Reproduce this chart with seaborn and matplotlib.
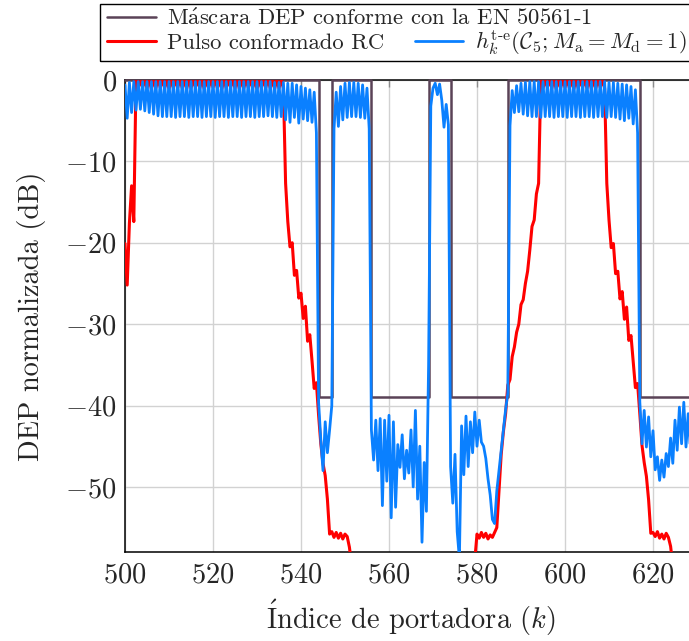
import numpy as np
import pandas as pd
import matplotlib
matplotlib.use("Agg")
import matplotlib.pyplot as plt
from matplotlib.lines import Line2D
from matplotlib.patches import Rectangle
import seaborn as sns

# ---------------- data ----------------
k_start, k_stop, k_step = 500.0, 630.0, 0.5   # carrier index grid (half-carrier)

# Mask DEP (EN 50561-1), breakpoints
mask_k = [500, 544, 544, 547, 547, 556, 556, 569, 569, 574, 574, 587, 587, 617, 617, 630]
mask_db = [0, 0, -39, -39, 0, 0, -39, -39, 0, 0, -39, -39, 0, 0, -39, -39]

# Pulso conformado RC (red)
red_rise1 = [-20.1, -25.2, -17.6, -13.0, -17.4, 0.0]                       # 500.0-502.5
red_pass1 = [-1.0, 0.0, -0.9, 0.0, -1.0, 0.0, -1.1, 0.0, -1.0, 0.0,
             -0.9, 0.0, -1.0, 0.0, -1.1, 0.0, -1.0, 0.0, -0.9, 0.0,
             -1.0, 0.0, -1.1, 0.0, -1.0, 0.0, -0.9, 0.0, -1.0, 0.0,
             -1.1, 0.0, -1.0, 0.0, -0.9, 0.0, -1.0, 0.0, -1.1, 0.0,
             -1.0, 0.0, -0.9, 0.0, -1.0, 0.0, -1.1, 0.0, -1.0, 0.0,
             -0.9, 0.0, -1.0, 0.0, -1.1, 0.0, -1.0, 0.0, -0.9, 0.0,
             -1.0, 0.0, -1.1, 0.0, -1.0, 0.0, -1.0]                           # 503.0-536.0
red_fall1 = [-12.7, -17.4, -20.5, -20.0, -24.0, -23.4, -26.8, -26.2, -29.3, -27.8,
             -32.1, -31.3, -34.5, -37.9, -37.2, -41.2, -44.7, -47.1, -48.6, -51.5,
             -55.8, -55.5, -56.2, -55.6, -56.3, -55.7, -56.4, -55.8, -56.1, -57.4,
             -59.5]                                                             # 536.5-551.5
red_hidden1 = [-62.0, -63.5, -64.0, -65.0, -66.0, -66.5, -67.0, -67.5, -68.0, -68.0, -68.5,
               -69.0, -69.0, -69.5, -70.0, -70.0, -70.0, -70.5, -70.5, -70.5, -71.0, -71.0,
               -71.0, -71.0, -71.0, -71.0, -71.0, -71.0, -70.5, -70.5, -70.5, -70.0, -70.0,
               -70.0, -69.5, -69.0, -69.0, -68.5, -68.0, -68.0, -67.5, -67.0, -66.5, -66.0,
               -65.5, -65.0, -64.5, -64.0, -63.5, -63.0, -62.5, -62.0, -61.5, -61.0, -60.5]  # 552.0-579.0
red_rise2 = [-59.0, -55.8, -56.3, -55.6, -56.2, -55.7, -56.4, -55.9, -56.2, -55.6,
             -55.0, -50.5, -46.0, -43.2, -41.0, -37.5, -36.8, -34.0, -32.8, -31.0,
             -30.0, -27.6, -27.0, -25.0, -23.5, -20.9, -18.0, -17.2, -14.0, -12.7]  # 579.5-594.0
red_pass2 = [0.0, -1.0, 0.0, -0.9, 0.0, -1.0, 0.0, -1.1, 0.0, -1.0,
             0.0, -0.9, 0.0, -1.0, 0.0, -1.1, 0.0, -1.0, 0.0, -0.9,
             0.0, -1.0, 0.0, -1.1, 0.0, -1.0, 0.0, -0.9, 0.0, -1.0]            # 594.5-609.0
red_fall2 = [-12.7, -17.2, -20.6, -20.1, -23.8, -23.5, -26.9, -26.0, -29.4, -27.9,
             -32.0, -31.4, -34.6, -37.8, -37.3, -41.0, -44.9, -47.0, -48.7, -51.6,
             -55.7, -55.6, -56.1, -55.5, -56.3, -55.8, -56.4, -55.7, -56.2, -57.3,
             -59.6]                                                             # 609.5-624.5
red_hidden2 = [-62.0, -63.5, -64.5, -65.5, -66.0, -66.5, -67.0, -67.5, -68.0, -68.0, -68.5]  # 625.0-630.0

# h_k^{t-e} (blue)
blue_pass1 = [-0.6, -4.7, -0.3, -4.0, -0.2, -3.7, -0.2, -3.6, -0.2, -3.8,
              -0.2, -4.0, -0.2, -4.2, -0.2, -4.4, -0.2, -4.5, -0.2, -4.5,
              -0.2, -4.5, -0.2, -4.6, -0.2, -4.5, -0.2, -4.5, -0.2, -4.6,
              -0.2, -4.5, -0.2, -4.5, -0.2, -4.6, -0.2, -4.5, -0.2, -4.5,
              -0.2, -4.6, -0.2, -4.5, -0.2, -4.5, -0.2, -4.6, -0.2, -4.5,
              -0.2, -4.5, -0.2, -4.6, -0.2, -4.5, -0.2, -4.5, -0.2, -4.6,
              -0.2, -4.5, -0.2, -4.5, -0.2, -4.4, -0.2, -4.5, -0.3, -4.6,
              -0.3, -4.5, -0.3, -4.9, -0.4, -5.2, -0.4, -4.6, -0.6, -5.3,
              -0.8, -4.8, -1.0, -5.0, -1.2, -5.2, -1.5, -6.5]                   # 500.0-543.5
blue_notch1 = [-39.6, -44.2, -48.0, -42.0, -45.8, -43.0]                       # 544.0-546.5
blue_pass2 = [-40.0, -6.0, -1.5, -5.7, -0.8, -4.9, -0.4, -4.6, -0.3, -4.5,
              -0.3, -4.5, -0.4, -4.6, -0.6, -4.7, -1.0, -6.0]                   # 547.0-555.5
blue_notch2 = [-43.0, -46.7, -41.8, -48.0, -41.6, -52.3, -41.8, -49.3, -41.2, -53.8,
               -42.0, -52.5, -44.8, -47.6, -43.6, -49.0, -45.5, -48.3, -43.0, -50.0,
               -40.6, -51.5, -45.0, -56.8, -47.0, -53.0]                        # 556.0-568.5
blue_hump = [-35.0, -3.2, -1.0, -0.4, -1.8, -0.5, -2.5, -5.8, -3.0, -5.5]      # 569.0-573.5
blue_notch3 = [-47.5, -52.0, -46.0, -55.5, -58.8, -42.5, -48.5, -41.3, -47.5, -42.0,
               -45.8, -40.8, -45.0, -41.8, -44.5, -45.0, -46.5, -49.0, -51.0, -54.0,
               -54.5, -50.5, -48.0, -45.5, -43.0, -40.5, -38.5]                 # 574.0-587.0
blue_pass4 = [-5.6, -1.3, -4.0, -0.7, -3.9, -0.4, -4.2, -0.3, -4.4, -0.2,
              -4.5, -0.2, -4.5, -0.2, -4.6, -0.2, -4.5, -0.2, -4.5, -0.2,
              -4.6, -0.2, -4.5, -0.2, -4.5, -0.2, -4.6, -0.2, -4.5, -0.2,
              -4.5, -0.2, -4.6, -0.2, -4.5, -0.2, -4.5, -0.2, -4.6, -0.2,
              -4.5, -0.2, -4.5, -0.2, -4.6, -0.3, -4.5, -0.3, -4.6, -0.4,
              -4.8, -0.5, -5.0, -0.6, -4.7, -0.8, -5.4, -1.2, -6.5]             # 587.5-616.5
blue_notch5 = [-39.5, -44.7, -40.6, -45.1, -41.4, -46.3, -43.1, -47.9, -46.3, -49.2,
               -46.7, -48.8, -45.9, -47.5, -44.0, -47.1, -41.8, -45.5, -40.2, -44.7,
               -39.6, -45.1, -41.0, -45.5, -41.5, -45.8, -42.0]                 # 617.0-630.0

xticks = [500, 520, 540, 560, 580, 600, 620]
yticks = [0, -10, -20, -30, -40, -50]

label_mask = r"M$\mathrm{\acute{a}}$scara DEP conforme con la EN 50561-1"
label_rc = "Pulso conformado RC"
label_h = r"$h_k^{\mathrm{t}\text{-}\mathrm{e}}(\mathcal{C}_5; M_\mathrm{a} = M_\mathrm{d} = 1)$"
xlabel = r"$\mathrm{\acute{I}}$ndice de portadora ($k$)"
ylabel = "DEP normalizada (dB)"

# ---------------- assemble ----------------
k = np.arange(k_start, k_stop + k_step / 2, k_step)
red = np.array(red_rise1 + red_pass1 + red_fall1 + red_hidden1 +
               red_rise2 + red_pass2 + red_fall2 + red_hidden2)
blue = np.array(blue_pass1 + blue_notch1 + blue_pass2 + blue_notch2 +
                blue_hump + blue_notch3 + blue_pass4 + blue_notch5)
assert len(red) == len(k) and len(blue) == len(k), (len(k), len(red), len(blue))

df = pd.DataFrame({"k": k, "rc": red, "h": blue})
mask_df = pd.DataFrame({"k": mask_k, "db": mask_db})

# ---------------- style ----------------
sns.set_theme(style="white")
plt.rcParams["font.family"] = ["cmr10", "DejaVu Serif"]
plt.rcParams["mathtext.fontset"] = "cm"
plt.rcParams["axes.formatter.use_mathtext"] = True
plt.rcParams["axes.unicode_minus"] = True

c_mask = "#5a4357"
c_red = "#ff0000"
c_blue = "#0a80ff"
lw_mask, lw_red, lw_blue = 1.8, 2.2, 2.0

W, H = 689, 641
fig = plt.figure(figsize=(W / 100, H / 100), dpi=100)
ax = fig.add_axes([125 / W, 89 / H, 572 / W, 472 / H])

sns.lineplot(data=mask_df, x="k", y="db", ax=ax, color=c_mask, lw=lw_mask,
             estimator=None, sort=False, zorder=3, clip_on=False)
sns.lineplot(data=df, x="k", y="rc", ax=ax, color=c_red, lw=lw_red,
             estimator=None, sort=False, zorder=3.1)
sns.lineplot(data=df, x="k", y="h", ax=ax, color=c_blue, lw=lw_blue,
             estimator=None, sort=False, zorder=3.2)

ax.set_xlim(500, 630)
ax.set_ylim(-58, 0)
ax.set_xticks(xticks)
ax.set_yticks(yticks)
ax.grid(True, color="#d2d2d2", lw=1.0)
ax.set_axisbelow(True)
for s in ax.spines.values():
    s.set_color("black")
    s.set_linewidth(1.1)
ax.tick_params(direction="in", length=5, width=1.0, color="#8c8c8c",
               top=True, right=False, labelsize=20.5)
ax.tick_params(axis="x", pad=7)
ax.tick_params(axis="y", pad=6)
ax.set_xlabel(xlabel, fontsize=20.5, labelpad=7)
ax.set_ylabel(ylabel, fontsize=20.5, labelpad=14)

# ---------------- legend ----------------
h_mask = Line2D([], [], color=c_mask, lw=lw_mask)
h_red = Line2D([], [], color=c_red, lw=lw_red)
h_blue = Line2D([], [], color=c_blue, lw=lw_blue)
common = dict(frameon=False, fontsize=16.3, handlelength=2.15, handletextpad=0.5,
              borderpad=0, borderaxespad=0, loc="center left",
              bbox_transform=fig.transFigure)
leg1 = fig.legend([h_mask], [label_mask], bbox_to_anchor=(107 / W, 1 - 18 / H), **common)
leg2 = fig.legend([h_red, h_blue], [label_rc, label_h], ncol=2, columnspacing=1.35,
                  bbox_to_anchor=(107 / W, 1 - 43 / H), **common)
fig.add_artist(Rectangle((100 / W, 1 - 61 / H), 620 / W, 57 / H, transform=fig.transFigure,
                         fill=False, edgecolor="black", lw=1.0))

fig.savefig("out.png", dpi=100)
